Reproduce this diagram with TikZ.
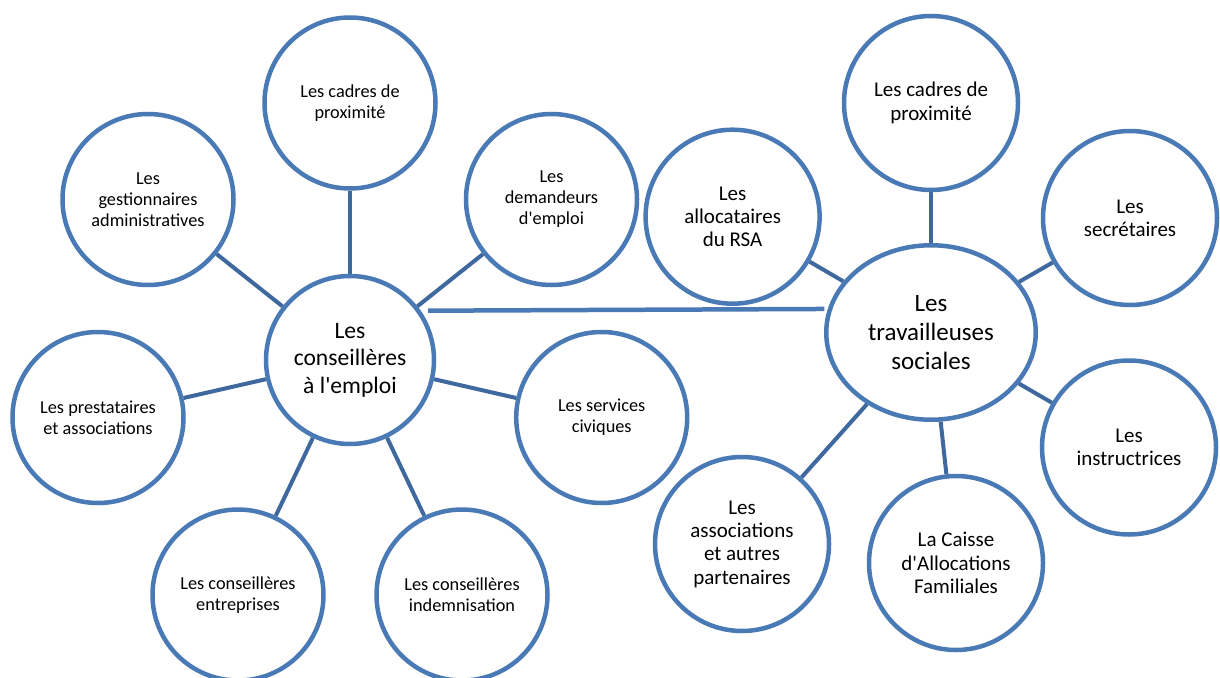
\documentclass[tikz,border=0pt]{standalone}
\usepackage{fontspec}
\setmainfont{Carlito}
\usetikzlibrary{shapes.geometric}
\definecolor{ringblue}{RGB}{74,122,181}
\definecolor{linkblue}{RGB}{62,104,158}
\newcommand{\sq}{\textquotesingle}
\begin{document}
\begin{tikzpicture}[x=1pt,y=-1pt,
  ring/.style={draw=ringblue, line width=4.5pt, fill=white, inner sep=0pt, align=center},
  smallL/.style={ring, circle, minimum size=171pt, font=\fontsize{18.3}{21}\selectfont},
  smallR/.style={ring, circle, minimum size=174pt, font=\fontsize{21}{23.3}\selectfont},
  hubLs/.style={ring, circle, minimum size=168pt, font=\fontsize{23.6}{27.5}\selectfont},
  hubRs/.style={ring, ellipse, minimum width=209.5pt, minimum height=174.5pt, font=\fontsize{25}{29}\selectfont},
  conn/.style={draw=linkblue, line width=4pt},
  bridge/.style={draw=ringblue, line width=4.5pt}]
\fill[white] (0,0) rectangle (1220,677);
\useasboundingbox (0,0) rectangle (1220,677);

% left cluster
\node[hubLs] (hubL) at (350,360) {Les\\conseillères\\à l\sq emploi};
\node[smallL] (cadresL) at (350,103) {Les cadres de\\proximité};
\node[smallL] (gest) at (148,199.5) {Les\\gestionnaires\\administratives};
\node[smallL] (dem) at (551.5,199.5) {Les\\demandeurs\\d\sq emploi};
\node[smallL] (prest) at (98,417.5) {Les prestataires\\et associations};
\node[smallL] (serv) at (601.7,417.5) {Les services\\civiques};
\node[smallL] (entr) at (238,595) {Les conseillères\\entreprises};
\node[smallL] (indem) at (462,595) {Les conseillères\\indemnisation};

% right cluster
\node[hubRs] (hubR) at (931,332.5) {Les\\travailleuses\\sociales};
\node[smallR] (alloc) at (732.6,216.7) {Les\\allocataires\\du RSA};
\node[smallR] (cadresR) at (931,103) {Les cadres de\\proximité};
\node[smallR] (secr) at (1130,218) {Les\\secrétaires};
\node[smallR] (instr) at (1129,447.5) {Les\\instructrices};
\node[smallR] (assoc) at (742,544) {Les\\associations\\et autres\\partenaires};
\node[smallR] (caf) at (956,563) {La Caisse\\d\sq Allocations\\Familiales};

% connectors left
\draw[conn] (hubL) -- (cadresL);
\draw[conn] (hubL) -- (gest);
\draw[conn] (hubL) -- (dem);
\draw[conn] (hubL) -- (prest);
\draw[conn] (hubL) -- (serv);
\draw[conn] (hubL) -- (entr);
\draw[conn] (hubL) -- (indem);

% connectors right
\draw[conn] (hubR) -- (cadresR);
\draw[conn] (hubR) -- (alloc);
\draw[conn] (hubR) -- (secr);
\draw[conn] (hubR) -- (instr);
\draw[conn] (hubR) -- (assoc);
\draw[conn] (hubR) -- (caf);

% bridge between hubs
\draw[bridge] ([xshift=5pt,yshift=3.6pt]hubL.32) -- ([xshift=-3pt,yshift=1.5pt]hubR.168);
\end{tikzpicture}
\end{document}
